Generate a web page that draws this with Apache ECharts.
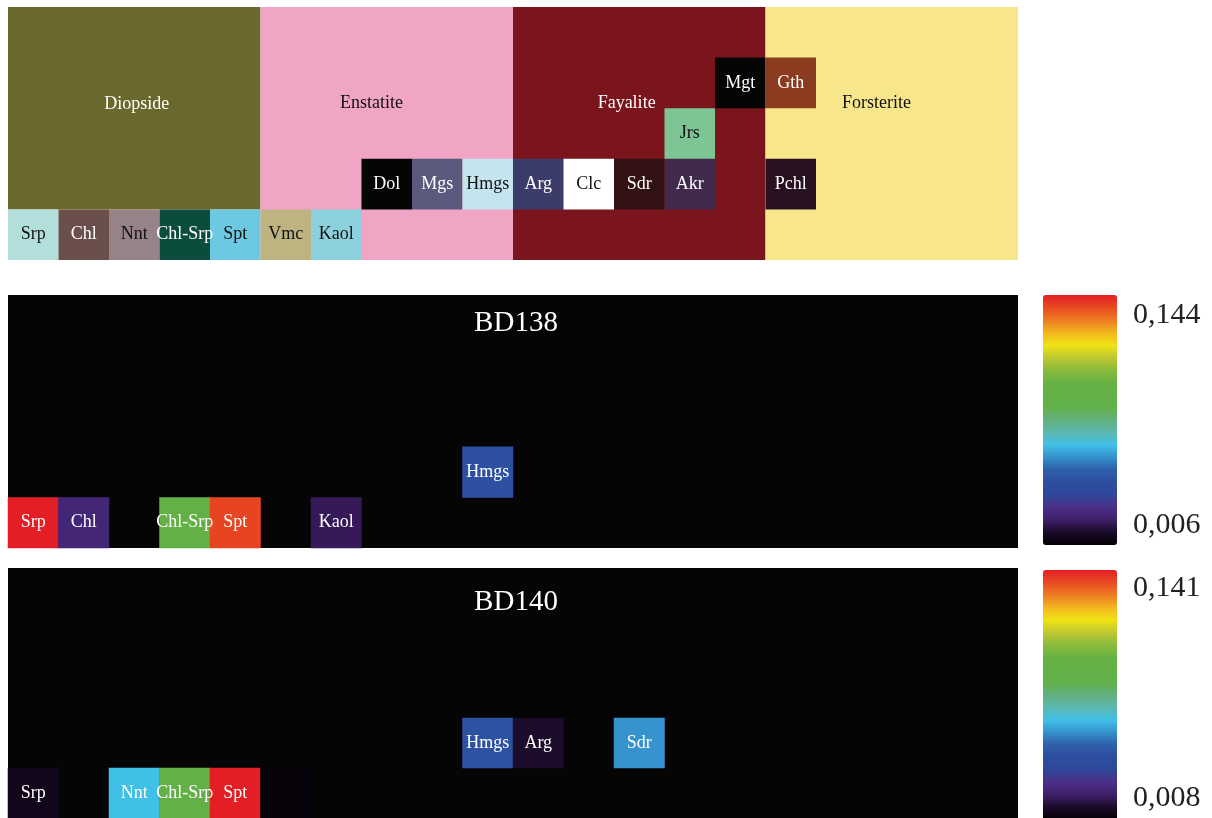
<!DOCTYPE html>
<html>
<head>
<meta charset="utf-8">
<script src="https://cdn.jsdelivr.net/npm/echarts@6/dist/echarts.min.js"></script>
<style>
html,body{margin:0;padding:0;background:#fff;}
#chart{width:1212px;height:818px;}
</style>
</head>
<body>
<div id="chart"></div>
<script>
// ---------- Layout grid (20 columns x 5 rows) ----------
const colCount = 20;
const rowCount = 5;

// Large mineral blocks: column start/end, row start/end, label anchor (col,row)
const blockNames = ['Diopside', 'Enstatite', 'Fayalite', 'Forsterite'];
const blockColStart = [0, 5, 10, 15];
const blockColEnd = [5, 10, 15, 20];
const blockRowStart = [0, 0, 0, 0];
const blockRowEnd = [4, 5, 5, 5];
const blockLabelCol = [2.55, 7.2, 12.25, 17.2];
const blockLabelRow = [1.92, 1.9, 1.9, 1.9];

// Small mineral cells: name, column, row
const cellNames = ['Srp', 'Chl', 'Nnt', 'Chl-Srp', 'Spt', 'Vmc', 'Kaol', 'Dol', 'Mgs', 'Hmgs', 'Arg', 'Clc', 'Sdr', 'Akr', 'Jrs', 'Mgt', 'Gth', 'Pchl'];
const cellCols = [0, 1, 2, 3, 4, 5, 6, 7, 8, 9, 10, 11, 12, 13, 13, 14, 15, 15];
const cellRows = [4, 4, 4, 4, 4, 4, 4, 3, 3, 3, 3, 3, 3, 3, 2, 1, 1, 3];

// Sample BD138
const bd138Names = ['Srp', 'Chl', 'Chl-Srp', 'Spt', 'Kaol', 'Hmgs'];
const bd138Values = [0.144, 0.023, 0.089, 0.138, 0.018, 0.042];
const bd138ShowLabel = [true, true, true, true, true, true];
const bd138Min = 0.006, bd138Max = 0.144;
const bd138Ticks = ['0,144', '0,006'];

// Sample BD140
const bd140Names = ['Srp', 'Nnt', 'Chl-Srp', 'Spt', 'Vmc', 'Hmgs', 'Arg', 'Sdr'];
const bd140Values = [0.012, 0.061, 0.088, 0.141, 0.009, 0.043, 0.015, 0.055];
const bd140ShowLabel = [true, true, true, true, false, true, true, true];
const bd140Min = 0.008, bd140Max = 0.141;
const bd140Ticks = ['0,141', '0,008'];

// ---------- Styles ----------
const mineralColors = {
  'Diopside': '#6b682d', 'Enstatite': '#f1a5c5', 'Fayalite': '#7a141d', 'Forsterite': '#f8e68b',
  'Srp': '#b2dfdb', 'Chl': '#6b4f4b', 'Nnt': '#958387', 'Chl-Srp': '#0c4c3c', 'Spt': '#6dc9e2',
  'Vmc': '#bdb482', 'Kaol': '#8bd1de', 'Dol': '#050505', 'Mgs': '#5a5a7f', 'Hmgs': '#c4e5ee',
  'Arg': '#3c3c6a', 'Clc': '#ffffff', 'Sdr': '#331213', 'Akr': '#422a4d', 'Jrs': '#7dc595',
  'Mgt': '#050505', 'Gth': '#8a3b20', 'Pchl': '#2a1122'
};
const darkText = ['Enstatite', 'Forsterite', 'Srp', 'Nnt', 'Spt', 'Vmc', 'Kaol', 'Hmgs', 'Clc', 'Jrs'];
const rampColors = ['#050005', '#1a0a28', '#3e1f68', '#4b2e86', '#30479a', '#2c4e9e', '#2f5ea9', '#3590cc',
  '#40c0e8', '#5cb8b0', '#62b07e', '#62b04a', '#62b046', '#68b244', '#8aba3c', '#bec830', '#f0e416',
  '#f2b41e', '#ee7c22', '#e84a22', '#e31e24'];
const serif = '"Liberation Serif", "Times New Roman", serif';

// ---------- Build series data ----------
const layoutData = [];
blockNames.forEach((n, i) => {
  layoutData.push({ name: n, value: [blockColStart[i], blockColEnd[i], blockRowStart[i], blockRowEnd[i], blockLabelCol[i], blockLabelRow[i]] });
});
cellNames.forEach((n, i) => {
  layoutData.push({ name: n, value: [cellCols[i], cellCols[i] + 1, cellRows[i], cellRows[i] + 1, cellCols[i] + 0.5, cellRows[i] + 0.5] });
});

function sampleData(names, values, showLabel) {
  return names.map((n, i) => {
    const k = cellNames.indexOf(n);
    const item = { name: n, value: [cellCols[k], cellRows[k], values[i]] };
    if (!showLabel[i]) item.label = { show: false };
    return item;
  });
}

const catX = Array.from({ length: colCount }, (_, i) => String(i));
const catY = Array.from({ length: rowCount }, (_, i) => String(i));

const gridTops = [7, 295, 568];
const gridH = 253;
const gridLeft = 8, gridW = 1010;

const chart = echarts.init(document.getElementById('chart'), null, { renderer: 'canvas' });

const hiddenAxis = { show: false };

const heatLabel = {
  show: true,
  formatter: p => p.name,
  color: '#ffffff',
  fontFamily: serif,
  fontSize: 18
};

const option = {
  animation: false,
  backgroundColor: '#ffffff',
  grid: [
    { left: gridLeft, top: gridTops[0], width: gridW, height: gridH, show: false },
    { left: gridLeft, top: gridTops[1], width: gridW, height: gridH, show: true, backgroundColor: '#050505', borderWidth: 0 },
    { left: gridLeft, top: gridTops[2], width: gridW, height: gridH, show: true, backgroundColor: '#050505', borderWidth: 0 }
  ],
  xAxis: [
    { type: 'value', gridIndex: 0, min: 0, max: colCount, ...hiddenAxis },
    { type: 'category', gridIndex: 1, data: catX, ...hiddenAxis },
    { type: 'category', gridIndex: 2, data: catX, ...hiddenAxis }
  ],
  yAxis: [
    { type: 'value', gridIndex: 0, min: 0, max: rowCount, inverse: true, ...hiddenAxis },
    { type: 'category', gridIndex: 1, data: catY, inverse: true, ...hiddenAxis },
    { type: 'category', gridIndex: 2, data: catY, inverse: true, ...hiddenAxis }
  ],
  visualMap: [
    {
      type: 'continuous', seriesIndex: 1, dimension: 2, min: bd138Min, max: bd138Max,
      calculable: false, orient: 'vertical', left: 1043, top: 295, itemWidth: 74, itemHeight: 250,
      padding: 0, text: null, inRange: { color: rampColors }, hoverLink: false
    },
    {
      type: 'continuous', seriesIndex: 2, dimension: 2, min: bd140Min, max: bd140Max,
      calculable: false, orient: 'vertical', left: 1043, top: 570, itemWidth: 74, itemHeight: 250,
      padding: 0, text: null, inRange: { color: rampColors }, hoverLink: false
    }
  ],
  series: [
    {
      type: 'custom',
      xAxisIndex: 0, yAxisIndex: 0,
      data: layoutData,
      silent: true,
      renderItem: function (params, api) {
        const name = layoutData[params.dataIndex].name;
        const p0 = api.coord([api.value(0), api.value(2)]);
        const p1 = api.coord([api.value(1), api.value(3)]);
        const pl = api.coord([api.value(4), api.value(5)]);
        return {
          type: 'group',
          children: [
            { type: 'rect', shape: { x: p0[0], y: p0[1], width: p1[0] - p0[0], height: p1[1] - p0[1] },
              style: { fill: mineralColors[name] } },
            { type: 'text', x: pl[0], y: pl[1], z2: 10,
              style: { text: name, align: 'center', verticalAlign: 'middle',
                fill: darkText.indexOf(name) >= 0 ? '#111111' : '#ffffff',
                font: '18px ' + serif } }
          ]
        };
      }
    },
    {
      type: 'heatmap', xAxisIndex: 1, yAxisIndex: 1,
      data: sampleData(bd138Names, bd138Values, bd138ShowLabel),
      label: heatLabel, emphasis: { disabled: true }, silent: true
    },
    {
      type: 'heatmap', xAxisIndex: 2, yAxisIndex: 2,
      data: sampleData(bd140Names, bd140Values, bd140ShowLabel),
      label: heatLabel, emphasis: { disabled: true }, silent: true
    }
  ],
  graphic: [
    { type: 'text', x: 516, y: 323, z: 100, style: { text: 'BD138', align: 'center', verticalAlign: 'middle', fill: '#ffffff', font: '29px ' + serif } },
    { type: 'text', x: 516, y: 602, z: 100, style: { text: 'BD140', align: 'center', verticalAlign: 'middle', fill: '#ffffff', font: '29px ' + serif } },
    { type: 'text', x: 1133, y: 315, style: { text: bd138Ticks[0], align: 'left', verticalAlign: 'middle', fill: '#222222', font: '30px ' + serif } },
    { type: 'text', x: 1133, y: 525, style: { text: bd138Ticks[1], align: 'left', verticalAlign: 'middle', fill: '#222222', font: '30px ' + serif } },
    { type: 'text', x: 1133, y: 588, style: { text: bd140Ticks[0], align: 'left', verticalAlign: 'middle', fill: '#222222', font: '30px ' + serif } },
    { type: 'text', x: 1133, y: 798, style: { text: bd140Ticks[1], align: 'left', verticalAlign: 'middle', fill: '#222222', font: '30px ' + serif } }
  ]
};

chart.setOption(option);
</script>
</body>
</html>
